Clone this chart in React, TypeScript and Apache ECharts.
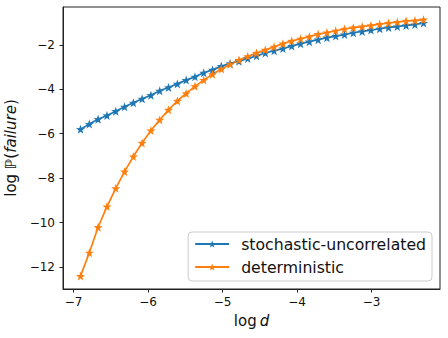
import React, { useEffect, useRef } from "react";
import * as echarts from "echarts";

const logD = [
  -6.908, -6.790, -6.672, -6.553, -6.435, -6.317, -6.199, -6.081, -5.963, -5.845,
  -5.727, -5.608, -5.490, -5.372, -5.254, -5.136, -5.018, -4.900, -4.781, -4.663,
  -4.545, -4.427, -4.309, -4.191, -4.073, -3.954, -3.836, -3.718, -3.600, -3.482,
  -3.364, -3.246, -3.127, -3.009, -2.891, -2.773, -2.655, -2.537, -2.419, -2.303,
];
const stochastic = [
  -5.80, -5.57, -5.35, -5.18, -4.99, -4.79, -4.61, -4.43, -4.27, -4.07,
  -3.92, -3.76, -3.59, -3.44, -3.26, -3.13, -2.96, -2.84, -2.74, -2.62,
  -2.50, -2.37, -2.27, -2.17, -2.06, -1.95, -1.86, -1.77, -1.68, -1.61,
  -1.54, -1.46, -1.40, -1.34, -1.28, -1.22, -1.18, -1.13, -1.09, -1.02,
];
const deterministic = [
  -12.41, -11.36, -10.21, -9.28, -8.46, -7.71, -7.03, -6.42, -5.86, -5.38,
  -4.93, -4.53, -4.19, -3.87, -3.59, -3.33, -3.09, -2.88, -2.69, -2.52,
  -2.37, -2.23, -2.09, -1.95, -1.83, -1.73, -1.63, -1.52, -1.45, -1.37,
  -1.29, -1.23, -1.18, -1.13, -1.07, -1.02, -0.98, -0.93, -0.91, -0.87,
];
const xTicks = [-7, -6, -5, -4, -3];
const yTicks = [-12, -10, -8, -6, -4, -2];
const seriesNames = ["stochastic-uncorrelated", "deterministic"];

const STAR =
  "path://M0,-10 L2.35,-3.24 L9.51,-3.09 L3.8,1.24 L5.88,8.09 L0,4 L-5.88,8.09 L-3.8,1.24 L-9.51,-3.09 L-2.35,-3.24 Z";

const FONT = "DejaVu Sans";
const fmt = (v: number) => (v < 0 ? "\u2212" + Math.abs(v) : String(v));

export default function App() {
  const ref = useRef<HTMLDivElement>(null);
  useEffect(() => {
    if (!ref.current) return;
    const chart = echarts.init(ref.current, undefined, { renderer: "svg" });
    const mk = (name: string, ys: number[], color: string) => ({
      name,
      type: "line",
      data: logD.map((x, i) => [x, ys[i]]),
      symbol: STAR,
      symbolSize: 9,
      showSymbol: true,
      lineStyle: { color, width: 1.7 },
      itemStyle: { color },
      emphasis: { disabled: true },
    });
    const nameRich = {
      n: { fontFamily: FONT, fontSize: 15, color: "#111" },
      i: { fontFamily: FONT, fontSize: 15, fontStyle: "italic", color: "#111" },
    };
    chart.setOption({
      animation: false,
      backgroundColor: "#ffffff",
      textStyle: { fontFamily: FONT },
      grid: {
        left: 63,
        right: 8,
        top: 7,
        bottom: 49,
        show: true,
        borderColor: "#222",
        borderWidth: 1,
        containLabel: false,
        outerBoundsMode: "none",
      },
      legend: {
        data: seriesNames,
        orient: "vertical",
        right: 16,
        bottom: 57,
        borderColor: "#cccccc",
        borderWidth: 1,
        borderRadius: 4,
        padding: [4, 6, 6, 6],
        itemGap: 7,
        itemWidth: 34,
        itemHeight: 9,
        textStyle: {
          fontFamily: FONT,
          fontSize: 15.7,
          lineHeight: 16,
          color: "#111",
          padding: [0, 0, 0, 7],
        },
      },
      xAxis: {
        type: "value",
        min: -7.143,
        max: -2.082,
        name: "{n|log\u2009}{i|d}",
        nameLocation: "middle",
        nameGap: 24,
        nameTextStyle: { rich: nameRich },
        axisLine: { show: true, lineStyle: { color: "#222" } },
        axisTick: { show: true, customValues: xTicks, length: 3.5, lineStyle: { color: "#222" } },
        axisLabel: { customValues: xTicks, formatter: fmt, fontSize: 12, color: "#111", margin: 7 },
        splitLine: { show: false },
      },
      yAxis: {
        type: "value",
        min: -12.99,
        max: -0.3,
        name: "{n|log \u2119(}{i|failure}{n|)}",
        nameLocation: "middle",
        nameGap: 40,
        nameRotate: 90,
        nameTextStyle: { rich: nameRich },
        axisLine: { show: true, lineStyle: { color: "#222" } },
        axisTick: { show: true, customValues: yTicks, length: 3.5, lineStyle: { color: "#222" } },
        axisLabel: { customValues: yTicks, formatter: fmt, fontSize: 12, color: "#111", margin: 8 },
        splitLine: { show: false },
      },
      series: [
        mk(seriesNames[0], stochastic, "#1f77b4"),
        mk(seriesNames[1], deterministic, "#ff7f0e"),
      ],
    });
    return () => chart.dispose();
  }, []);
  return (
    <div
      ref={ref}
      style={{ position: "absolute", left: 0, top: 0, width: 448, height: 338 }}
    />
  );
}
